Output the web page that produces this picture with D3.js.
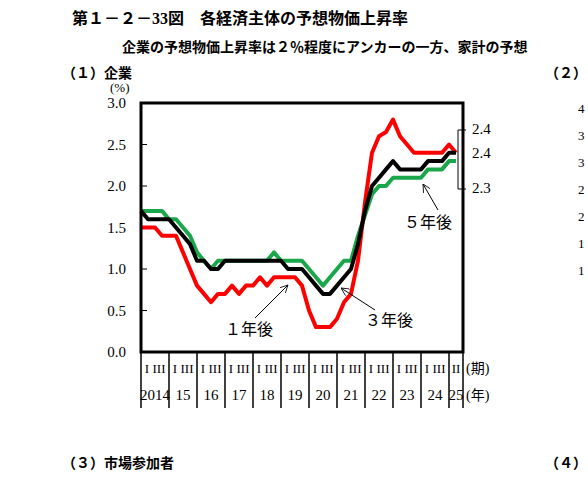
<!DOCTYPE html><html><head><meta charset="utf-8"><script src="https://cdn.jsdelivr.net/npm/d3@7"></script>
<style>body{margin:0;background:#fff}text{font-family:"Liberation Serif","Noto Sans CJK JP",serif}</style></head><body>
<svg id="c" width="588" height="481"></svg>
<script>
const years=["2014","15","16","17","18","19","20","21","22","23","24","25"];
const yTicks=[0,0.5,1,1.5,2,2.5,3];
const red=[1.5,1.5,1.5,1.4,1.4,1.4,1.2,1.0,0.8,0.7,0.6,0.7,0.7,0.8,0.7,0.8,0.8,0.9,0.8,0.9,0.9,0.9,0.9,0.8,0.5,0.3,0.3,0.3,0.4,0.6,0.7,1.1,1.8,2.4,2.6,2.65,2.8,2.6,2.5,2.4,2.4,2.4,2.4,2.4,2.5,2.4];
const black=[1.7,1.6,1.6,1.6,1.6,1.5,1.4,1.3,1.1,1.1,1.0,1.0,1.1,1.1,1.1,1.1,1.1,1.1,1.1,1.1,1.1,1.0,1.0,1.0,0.9,0.8,0.7,0.7,0.8,0.9,1.0,1.3,1.7,2.0,2.1,2.2,2.3,2.2,2.2,2.2,2.2,2.3,2.3,2.3,2.4,2.4];
const green=[1.7,1.7,1.7,1.7,1.6,1.6,1.5,1.4,1.2,1.1,1.0,1.1,1.1,1.1,1.1,1.1,1.1,1.1,1.1,1.2,1.1,1.1,1.1,1.1,1.0,0.9,0.8,0.9,1.0,1.1,1.1,1.4,1.65,1.9,2.0,2.0,2.1,2.1,2.1,2.1,2.1,2.2,2.2,2.2,2.3,2.3];
const svg=d3.select("#c");
const L=141,R=463,T=103,B=352;
const x=d3.scaleLinear().domain([0,46]).range([L,L+46*7]);
const y=d3.scaleLinear().domain([0,3]).range([B,T]);
svg.append("text").attr("x",72).attr("y",24).attr("font-size",16).attr("font-weight","bold").text("第１－２－33図　各経済主体の予想物価上昇率");
svg.append("text").attr("x",122).attr("y",52).attr("font-size",14).attr("font-weight","bold").text("企業の予想物価上昇率は２％程度にアンカーの一方、家計の予想");
svg.append("text").attr("x",62).attr("y",78).attr("font-size",14).attr("font-weight","bold").text("（１）企業");
svg.append("text").attr("x",545).attr("y",78).attr("font-size",14).attr("font-weight","bold").text("（２）");
svg.append("text").attr("x",62).attr("y",468).attr("font-size",14).attr("font-weight","bold").text("（３）市場参加者");
svg.append("text").attr("x",545).attr("y",468).attr("font-size",14).attr("font-weight","bold").text("（４）");
["4","3","3","2","2","1","1"].forEach((t,i)=>svg.append("text").attr("x",578).attr("y",113+i*27).attr("font-size",13).text(t));
svg.append("text").attr("x",110).attr("y",92).attr("font-size",13).text("(%)");
yTicks.forEach(v=>{svg.append("text").attr("x",126).attr("y",y(v)+5).attr("text-anchor","end").attr("font-size",15).text(v.toFixed(1));
 svg.append("line").attr("x1",L).attr("x2",L+6).attr("y1",y(v)).attr("y2",y(v)).attr("stroke","#000");});
const starts=[0,4,8,12,16,20,24,28,32,36,40,44,46];
starts.forEach(q=>svg.append("line").attr("x1",x(q)).attr("x2",x(q)).attr("y1",B).attr("y2",408).attr("stroke","#000").attr("stroke-width",1.5));
years.forEach((yr,i)=>{const a=starts[i],b=starts[i+1];
 svg.append("text").attr("x",(x(a)+x(b))/2).attr("y",400).attr("text-anchor","middle").attr("font-size",15).text(yr);
 if(b-a==4){svg.append("text").attr("x",x(a)+6).attr("y",373).attr("text-anchor","middle").attr("font-size",13).text("I");
  svg.append("text").attr("x",x(a)+18).attr("y",373).attr("text-anchor","middle").attr("font-size",13).text("III");}
 else svg.append("text").attr("x",(x(a)+x(b))/2).attr("y",373).attr("text-anchor","middle").attr("font-size",13).text("II");});
svg.append("text").attr("x",466).attr("y",373).attr("font-size",14).text("(期)");
svg.append("text").attr("x",466).attr("y",400).attr("font-size",14).text("(年)");
const line=d3.line().x((d,i)=>x(i)).y(d=>y(d));
[[green,"#1aa64a"],[red,"#ff0000"],[black,"#000"]].forEach(([d,c])=>svg.append("path").datum(d).attr("d",line).attr("fill","none").attr("stroke",c).attr("stroke-width",4).attr("stroke-linejoin","round"));
svg.append("rect").attr("x",L).attr("y",T).attr("width",R-L).attr("height",B-T).attr("fill","none").attr("stroke","#000").attr("stroke-width",3);
svg.append("path").attr("d",`M466,130H458V189H466`).attr("fill","none").attr("stroke","#000");
[["2.4",134],["2.4",158],["2.3",193]].forEach(([t,yy])=>svg.append("text").attr("x",472).attr("y",yy).attr("font-size",15).text(t));
svg.append("defs").append("marker").attr("id","ar").attr("viewBox","0 0 10 10").attr("refX",10).attr("refY",5).attr("markerWidth",8).attr("markerHeight",8).attr("orient","auto").append("path").attr("d","M0,0L10,5L0,10").attr("fill","none").attr("stroke","#000");
svg.append("text").attr("x",225).attr("y",335).attr("font-size",16).text("１年後");
svg.append("line").attr("x1",255).attr("y1",318).attr("x2",288).attr("y2",285).attr("stroke","#000").attr("marker-end","url(#ar)");
svg.append("text").attr("x",365).attr("y",326).attr("font-size",16).text("３年後");
svg.append("line").attr("x1",375).attr("y1",310).attr("x2",341).attr("y2",288).attr("stroke","#000").attr("marker-end","url(#ar)");
svg.append("text").attr("x",404).attr("y",228).attr("font-size",16).text("５年後");
svg.append("line").attr("x1",438).attr("y1",210).attr("x2",423).attr("y2",184).attr("stroke","#000").attr("marker-end","url(#ar)");
</script></body></html>
